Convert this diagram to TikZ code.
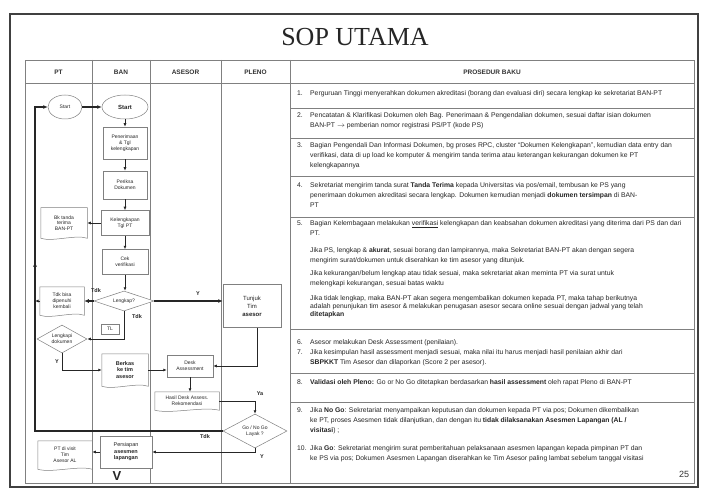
\documentclass[tikz,border=0pt]{standalone}
\usepackage{fontspec}
\setmainfont{Liberation Serif}
\setsansfont{Liberation Sans}
\usetikzlibrary{shapes.geometric,arrows.meta,calc}
\newcommand{\docshape}[1]{%
  \draw[docline] (#1.south west) -- (#1.north west) -- (#1.north east) -- (#1.south east)
    .. controls ($(#1.south east)!0.5!(#1.south)+(0,-4)$) and ($(#1.south west)!0.5!(#1.south)+(0,4)$) .. (#1.south west);}
\begin{document}
\begin{tikzpicture}[x=1pt,y=-1pt,
  frame/.style={draw=black!75, line width=1.3pt},
  grid/.style={draw=black!50, line width=0.6pt},
  box/.style={draw=black!50, line width=0.5pt, fill=white, font=\fontsize{5}{5.8}\selectfont\sffamily, align=center, inner sep=0.5pt, text=black!85},
  docnode/.style={box, draw=none, fill=none},
  docline/.style={draw=black!50, line width=0.5pt},
  ell/.style={ellipse, box},
  dia/.style={diamond, box, inner sep=0pt, aspect=2},
  flow/.style={draw=black!85, line width=1pt, -{Latex[length=3.5pt,width=3pt]}},
  heavy/.style={draw=black!85, line width=1.8pt, -{Latex[length=4.5pt,width=4pt]}},
  lbl/.style={font=\fontsize{5.5}{6}\selectfont\sffamily\bfseries, text=black!85, inner sep=0.5pt},
  hdr/.style={font=\fontsize{6.5}{7}\selectfont\sffamily\bfseries, text=black!80, inner sep=0pt},
  proc/.style={anchor=north west, inner sep=0pt, text=black!85, font=\fontsize{6.8}{10}\selectfont\sffamily},
]
\useasboundingbox (0,0) rectangle (701,489);
\fill[white] (0,0) rectangle (701,489);
\draw[frame] (10,14) rectangle (698,487);
\node[font=\fontsize{26}{28}\selectfont\rmfamily, text=black!85] (title) at (355,37) {SOP UTAMA};

% table
\draw[grid] (25,60) rectangle (694,483);
\foreach \x in {92,150,221,290} \draw[grid] (\x,60) -- (\x,483);
\draw[grid] (25,83) -- (694,83);
\foreach \y in {108,138,176,217,329,373,402} \draw[grid] (290,\y) -- (694,\y);

\node[hdr] (hPT) at (58.5,72) {PT};
\node[hdr] (hBAN) at (121,72) {BAN};
\node[hdr] (hAS) at (185.5,72) {ASESOR};
\node[hdr] (hPL) at (255.5,72) {PLENO};
\node[hdr] (hPB) at (492,72) {PROSEDUR BAKU};

% flow nodes
\node[ell, minimum width=34pt, minimum height=24pt] (ptStart) at (65,107) {Start};
\node[ell, minimum width=46pt, minimum height=24pt, font=\fontsize{6}{7}\selectfont\sffamily\bfseries] (banStart) at (125,107) {Start};
\node[box, minimum width=44pt, minimum height=32pt] (b1) at (125,143) {Penerimaan\\\& Tgl\\kelengkapan};
\node[box, minimum width=44pt, minimum height=28pt] (b2) at (125,185) {Periksa\\Dokumen};
\node[box, minimum width=48pt, minimum height=25pt] (b3) at (125,223) {Kelengkapan\\Tgl PT};
\node[docnode, minimum width=46pt, minimum height=30pt] (ptDoc1) at (64,223) {Bk tanda\\terima\\BAN-PT}; \docshape{ptDoc1}
\node[box, minimum width=46pt, minimum height=25pt] (b4) at (125,262) {Cek\\verifikasi};
\node[dia, minimum width=60pt, minimum height=20pt] (dec1) at (124,301) {Lengkap?};
\node[docnode, minimum width=44pt, minimum height=28pt] (ptDoc2) at (62,301) {Tdk bisa\\dipenuhi\\kembali}; \docshape{ptDoc2}
\node[dia, minimum width=50pt, minimum height=28pt] (ptDec) at (62,339) {Lengkapi\\dokumen};
\node[box, minimum width=18pt, minimum height=10pt] (tlBox) at (110,329) {TL};
\node[docnode, minimum width=46pt, minimum height=32pt, font=\fontsize{5.5}{6.5}\selectfont\sffamily\bfseries] (b5) at (125,370) {Berkas\\ke tim\\asesor}; \docshape{b5}
\node[box, minimum width=46pt, minimum height=22pt] (a1) at (190,366) {Desk\\Assessment};
\node[box, minimum width=58pt, minimum height=43pt, font=\fontsize{6}{8}\selectfont\sffamily] (p1) at (252,306) {Tunjuk\\Tim\\\textbf{asesor}};
\node[docnode, minimum width=64pt, minimum height=18pt] (a2) at (187,401) {Hasil Desk Assess.\\Rekomendasi}; \docshape{a2}
\node[dia, minimum width=64pt, minimum height=34pt] (pDec) at (255,431) {Go / No Go\\Layak ?};
\node[box, minimum width=52pt, minimum height=32pt, font=\fontsize{5.5}{6.5}\selectfont\sffamily] (b6) at (126,452) {Persiapan\\\textbf{asesmen}\\\textbf{lapangan}};
\node[docnode, minimum width=54pt, minimum height=28pt] (ptDoc3) at (65,455) {PT di visit\\Tim\\Asesor AL}; \docshape{ptDoc3}
\node[font=\fontsize{13}{14}\selectfont\sffamily\bfseries, text=black!85, inner sep=0pt] (vmark) at (117,476) {V};

\coordinate (fbTop) at (35,107);
\coordinate (fbBot) at (35,431);
\coordinate (fbM1) at (35,270);
\coordinate (fbM2) at (35,262);

% connectors
\draw[heavy] (ptStart.east) -- (ptStart.east -| banStart.west);
\draw[flow] (banStart) -- (b1);
\draw[flow] (b1) -- (b2);
\draw[flow] (b2) -- (b3);
\draw[flow] (b3) -- (b4);
\draw[flow] (b3.west) -- (b3.west -| ptDoc1.east);
\draw[flow] (b4.south) -- (b4.south |- dec1.north);
\draw[heavy] (dec1.east) -- (dec1.east -| p1.west);
\node[lbl] (lY1) at (198,294) {Y};
\draw[heavy] (dec1.west) -- (dec1.west -| ptDoc2.east);
\node[lbl] (lT1) at (96,291) {Tdk};
\draw[flow] (ptDoc2.west) -- (ptDoc2.west -| fbTop);
\draw[flow] (dec1.south) |- (ptDec.east);
\node[lbl] (lT2) at (137,317) {Tdk};
\draw[flow] (ptDec.south) |- (b5.west);
\node[lbl] (lY2) at (57,362) {Y};
\draw[flow] (b5.east) -- (b5.east -| a1.west);
\draw[flow] ($(p1.south)+(5,0)$) |- (a1.east);
\draw[flow] (a1.south) -- (a1.south |- a2.north);
\draw[flow] (a2.east) -| (pDec.north);
\node[lbl] (lYa) at (260,394) {Ya};
\draw[heavy] (pDec.west) -- (pDec.west -| fbBot) -- (fbTop) -- (ptStart.west);
\draw[heavy] (fbM1) -- (fbM2);
\node[lbl] (lT3) at (205,437) {Tdk};
\draw[flow] (pDec.south) |- (b6.east);
\node[lbl] (lY3) at (262,457) {Y};
\draw[flow] (b6.west) -- (b6.west -| ptDoc3.east);

% procedure text
\node[proc] (r1) at (297,88.5) {\begin{tabular}{@{}p{13pt}@{}l@{}}1. & Perguruan Tinggi menyerahkan dokumen akreditasi (borang dan evaluasi diri) secara lengkap ke sekretariat BAN-PT\end{tabular}};
\node[proc] (r2) at (297,110.5) {\begin{tabular}{@{}p{13pt}@{}l@{}}2. & Pencatatan \& Klarifikasi Dokumen oleh Bag. Penerimaan \& Pengendalian dokumen, sesuai daftar isian dokumen\\ & BAN-PT $\rightarrow$ pemberian nomor registrasi PS/PT (kode PS)\end{tabular}};
\node[proc] (r3) at (297,140.5) {\begin{tabular}{@{}p{13pt}@{}l@{}}3. & Bagian Pengendali Dan Informasi Dokumen, bg proses RPC, cluster “Dokumen Kelengkapan”, kemudian data entry dan\\ & verifikasi, data di up load ke komputer \& mengirim tanda terima atau keterangan kekurangan dokumen ke PT\\ & kelengkapannya\end{tabular}};
\node[proc] (r4) at (297,180.5) {\begin{tabular}{@{}p{13pt}@{}l@{}}4. & Sekretariat mengirim tanda surat \textbf{Tanda Terima} kepada Universitas via pos/email, tembusan ke PS yang\\ & penerimaan dokumen akreditasi secara lengkap. Dokumen kemudian menjadi \textbf{dokumen tersimpan} di BAN-\\ & PT\end{tabular}};
\node[proc] (r5) at (297,218.5) {\begin{tabular}{@{}p{13pt}@{}l@{}}5. & Bagian Kelembagaan melakukan \underline{verifikasi} kelengkapan dan keabsahan dokumen akreditasi yang diterima dari PS dan dari\\ & PT.\end{tabular}};
\node[proc] (r5b) at (310,245.5) {\begin{tabular}{@{}l@{}}Jika PS, lengkap \& \textbf{akurat}, sesuai borang dan lampirannya, maka Sekretariat BAN-PT akan dengan segera\\ mengirim surat/dokumen untuk diserahkan ke tim asesor yang ditunjuk.\end{tabular}};
\node[proc] (r5c) at (310,268.5) {\begin{tabular}{@{}l@{}}Jika kekurangan/belum lengkap atau tidak sesuai, maka sekretariat akan meminta PT via surat untuk\\ melengkapi kekurangan, sesuai batas waktu\end{tabular}};
\node[proc, font=\fontsize{6.8}{8}\selectfont\sffamily] (r5d) at (310,294.4) {\begin{tabular}{@{}l@{}}Jika tidak lengkap, maka BAN-PT akan segera mengembalikan dokumen kepada PT, maka tahap berikutnya\\ adalah penunjukan tim asesor \& melakukan penugasan asesor secara online sesuai dengan jadwal yang telah\\ \textbf{ditetapkan}\end{tabular}};
\node[proc] (r6) at (297,337.5) {\begin{tabular}{@{}p{13pt}@{}l@{}}6. & Asesor melakukan Desk Assessment (penilaian).\\ 7. & Jika kesimpulan hasil assessment menjadi sesuai, maka nilai itu harus menjadi hasil penilaian akhir dari\\ & \textbf{SBPKKT} Tim Asesor dan dilaporkan (Score 2 per asesor).\end{tabular}};
\node[proc] (r8) at (297,377.5) {\begin{tabular}{@{}p{13pt}@{}l@{}}8. & \textbf{Validasi oleh Pleno:} Go or No Go ditetapkan berdasarkan \textbf{hasil assessment} oleh rapat Pleno di BAN-PT\end{tabular}};
\node[proc] (r9) at (297,405.5) {\begin{tabular}{@{}p{13pt}@{}l@{}}9. & Jika \textbf{No Go}: Sekretariat menyampaikan keputusan dan dokumen kepada PT via pos; Dokumen dikembalikan\\ & ke PT, proses Asesmen tidak dilanjutkan, dan dengan itu \textbf{tidak dilaksanakan Asesmen Lapangan (AL /}\\ & \textbf{visitasi}) ;\end{tabular}};
\node[proc] (r10) at (297,443.5) {\begin{tabular}{@{}p{13pt}@{}l@{}}10. & Jika \textbf{Go}: Sekretariat mengirim surat pemberitahuan pelaksanaan asesmen lapangan kepada pimpinan PT dan\\ & ke PS via pos; Dokumen Asesmen Lapangan diserahkan ke Tim Asesor paling lambat sebelum tanggal visitasi\end{tabular}};
\node[font=\fontsize{9}{10}\selectfont\sffamily, text=black!80, inner sep=0pt] (pg) at (684,474) {25};
\end{tikzpicture}
\end{document}
